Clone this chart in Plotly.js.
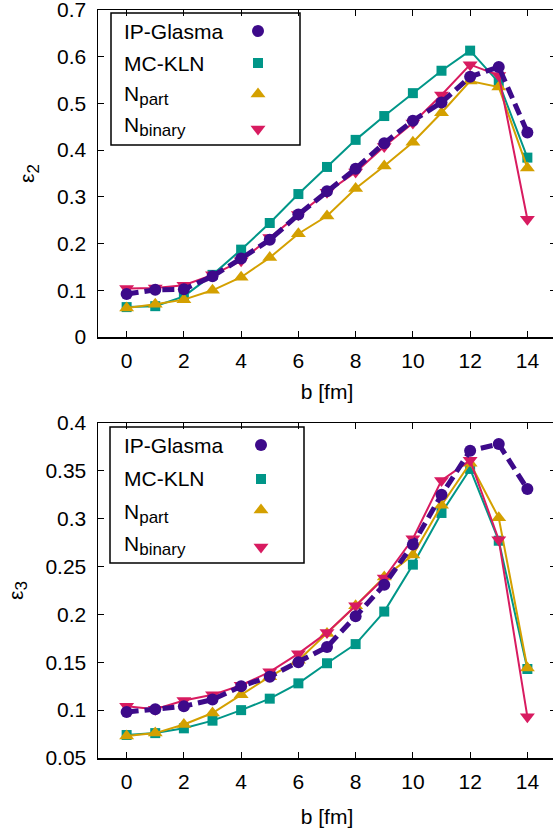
<!DOCTYPE html>
<html>
<head>
<meta charset="utf-8">
<script src="https://cdn.plot.ly/plotly-3.0.1.min.js"></script>
<style>
html,body{margin:0;padding:0;overflow:hidden;background:#fff;}
#plot{width:560px;height:831px;}
</style>
</head>
<body>
<div id="plot"></div>
<script>
// ---- data ----
const b = [0,1,2,3,4,5,6,7,8,9,10,11,12,13,14];
const seriesNames = ["IP-Glasma","MC-KLN","N<sub><span style='font-size:17px'>part</span></sub>","N<sub><span style='font-size:17px'>binary</span></sub>"];
const e2_ipglasma = [0.092,0.101,0.102,0.130,0.168,0.208,0.262,0.312,0.360,0.415,0.463,0.502,0.557,0.578,0.438];
const e2_mckln    = [0.064,0.066,0.087,0.133,0.187,0.244,0.306,0.364,0.422,0.473,0.522,0.570,0.613,0.545,0.384];
const e2_npart    = [0.062,0.070,0.080,0.100,0.128,0.170,0.221,0.259,0.318,0.366,0.417,0.480,0.548,0.535,0.362];
const e2_nbinary  = [0.104,0.105,0.111,0.133,0.163,0.213,0.262,0.310,0.353,0.408,0.458,0.518,0.583,0.560,0.252];
const e3_ipglasma = [0.098,0.101,0.104,0.111,0.125,0.135,0.150,0.166,0.198,0.231,0.273,0.325,0.371,0.378,0.331];
const e3_mckln    = [0.074,0.076,0.081,0.089,0.100,0.112,0.128,0.149,0.169,0.203,0.252,0.306,0.352,0.277,0.143];
const e3_npart    = [0.073,0.076,0.085,0.097,0.116,0.135,0.152,0.180,0.209,0.239,0.262,0.314,0.358,0.301,0.144];
const e3_nbinary  = [0.104,0.101,0.110,0.116,0.126,0.140,0.159,0.181,0.209,0.238,0.279,0.340,0.361,0.278,0.093];

// ---- styles ----
const FONT = "Liberation Sans, Arial, Helvetica, sans-serif";
const FS = 21;
const styles = [
  {color:"#3d0a8a", symbol:"circle", size:12, width:5, dash:"12px,6px"},
  {color:"#009688", symbol:"square", size:10, width:2, dash:"solid"},
  {color:"#d4a000", symbol:"triangle-up", size:13, width:2, dash:"solid"},
  {color:"#d81b60", symbol:"triangle-down", size:13, width:2, dash:"solid"}
];

function tr(y, i, xa, ya){
  const s = styles[i];
  return {x:b, y:y, xaxis:xa, yaxis:ya, type:"scatter", mode:"lines+markers",
    name:seriesNames[i], showlegend:false,
    line:{color:s.color, width:s.width, dash:s.dash},
    marker:{color:s.color, symbol:s.symbol, size:s.size, opacity:1, line:{width:0}}};
}
const topSets = [e2_ipglasma,e2_mckln,e2_npart,e2_nbinary];
const botSets = [e3_ipglasma,e3_mckln,e3_npart,e3_nbinary];
const drawOrder = [1,2,3,0];
const data = [];
drawOrder.forEach(i=>data.push(tr(topSets[i], i, "x", "y")));
drawOrder.forEach(i=>data.push(tr(botSets[i], i, "x2", "y2")));

// ---- layout geometry (pixels) ----
const W = 560, H = 831, L = 98, R = 4, T = 10, B = 73;
const pw = W-L-R, ph = H-T-B;
const px = v => (v-L)/pw;
const py = v => (H-B-v)/ph;

// legend: text on the left, key marker on the right (as in the reference)
const legendRows = {
  top: {textX:122, keyX:258, textY:[31,64,95,127], keyY:[31,63,94,129], box:[111,13,300,145]},
  bot: {textX:122, keyX:261, textY:[445,479,513,545], keyY:[445,479,510,547], box:[110,427,304,563]}
};
const annotations = [];
const shapes = [];
["top","bot"].forEach(k=>{
  const r = legendRows[k];
  const bx = r.box;
  shapes.push({type:"rect", xref:"paper", yref:"paper", x0:px(bx[0]), x1:px(bx[2]), y0:py(bx[3]), y1:py(bx[1]),
    line:{color:"#000", width:1.5}, fillcolor:"rgba(255,255,255,0)"});
  seriesNames.forEach((n,i)=>{
    annotations.push({xref:"paper", yref:"paper", x:px(r.textX), y:py(r.textY[i]), xanchor:"left", yanchor:"middle",
      text:n, showarrow:false, font:{family:FONT, size:FS, color:"#000"}});
  });
  data.push({type:"scatter", mode:"markers", xaxis:"x3", yaxis:"y3", showlegend:false, hoverinfo:"skip", cliponaxis:false,
    x:styles.map(()=>px(r.keyX)), y:r.keyY.map(py),
    marker:{color:styles.map(s=>s.color), symbol:styles.map(s=>s.symbol), size:styles.map(s=>s.size), opacity:1, line:{width:0}}});
});

const axBase = {showline:true, linecolor:"#000", linewidth:1.5, mirror:"ticks", ticks:"inside", ticklen:6, tickwidth:1.2,
  tickcolor:"#000", showgrid:false, zeroline:false, tickfont:{family:FONT, size:FS, color:"#000"}, automargin:false,
  ticklabeloverflow:"allow"};

const topDomain = [(H-B-337)/ph, 1];
const botDomain = [0, (H-B-423)/ph];

const layout = {
  width:W, height:H, margin:{l:L, r:R, t:T, b:B},
  paper_bgcolor:"#fff", plot_bgcolor:"rgba(0,0,0,0)", showlegend:false,
  font:{family:FONT, size:FS, color:"#000"},
  xaxis: Object.assign({}, axBase, {domain:[0,1], anchor:"y", range:[-1,15], tick0:0, dtick:2, ticklabelstandoff:4,
    title:{text:"b [fm]", font:{family:FONT,size:FS}, standoff:13}}),
  yaxis: Object.assign({}, axBase, {domain:topDomain, anchor:"x", range:[0,0.7], tick0:0, dtick:0.1, ticklabelstandoff:6,
    title:{text:"ε<sub><span style='font-size:17px'>2</span></sub>", font:{family:FONT,size:FS}, standoff:16}}),
  xaxis2: Object.assign({}, axBase, {domain:[0,1], anchor:"y2", range:[-1,15], tick0:0, dtick:2, ticklabelstandoff:4,
    title:{text:"b [fm]", font:{family:FONT,size:FS}, standoff:17}}),
  yaxis2: Object.assign({}, axBase, {domain:botDomain, anchor:"x2", range:[0.05,0.4], tick0:0.05, dtick:0.05, ticklabelstandoff:6,
    title:{text:"ε<sub><span style='font-size:17px'>3</span></sub>", font:{family:FONT,size:FS}, standoff:16}}),
  xaxis3: {domain:[0,1], anchor:"y3", range:[0,1], visible:false, fixedrange:true, showgrid:false, zeroline:false},
  yaxis3: {domain:[0,1], anchor:"x3", range:[0,1], visible:false, fixedrange:true, showgrid:false, zeroline:false},
  shapes: shapes,
  annotations: annotations
};
Plotly.newPlot("plot", data, layout, {staticPlot:true, displayModeBar:false});
</script>
</body>
</html>
